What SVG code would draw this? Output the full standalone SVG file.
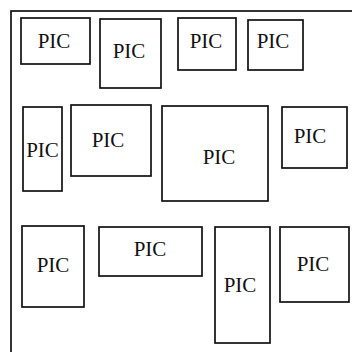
<svg xmlns="http://www.w3.org/2000/svg" width="352" height="352" viewBox="0 0 352 352">
<style>
rect.b{fill:none;stroke:#111;stroke-width:1.7}
text{font-size:21px;fill:#111;text-anchor:middle}
</style>
<rect width="352" height="352" fill="#fff"/>
<g id="frame"><rect class="b" x="11" y="11" width="360" height="360"/></g>
<g font-family="Liberation Serif, Times New Roman, serif">
<g id="n1"><rect class="b" x="21" y="18" width="69" height="46"/><text x="54" y="48">PIC</text></g>
<g id="n2"><rect class="b" x="100" y="19" width="61" height="69"/><text x="129" y="58">PIC</text></g>
<g id="n3"><rect class="b" x="178" y="18" width="58" height="52"/><text x="206" y="48">PIC</text></g>
<g id="n4"><rect class="b" x="248" y="20" width="55" height="50"/><text x="273" y="48">PIC</text></g>
<g id="n5"><rect class="b" x="23" y="107" width="39" height="84"/><text x="42.5" y="157">PIC</text></g>
<g id="n6"><rect class="b" x="71" y="105" width="80" height="71"/><text x="108" y="147">PIC</text></g>
<g id="n7"><rect class="b" x="162" y="106" width="106" height="95"/><text x="219" y="164">PIC</text></g>
<g id="n8"><rect class="b" x="282" y="107" width="65" height="61"/><text x="310" y="143">PIC</text></g>
<g id="n9"><rect class="b" x="22" y="226" width="62" height="81"/><text x="53" y="272">PIC</text></g>
<g id="n10"><rect class="b" x="99" y="227" width="103" height="49"/><text x="150" y="256">PIC</text></g>
<g id="n11"><rect class="b" x="215" y="227" width="55" height="116"/><text x="240" y="292">PIC</text></g>
<g id="n12"><rect class="b" x="280" y="227" width="69" height="75"/><text x="313" y="271">PIC</text></g>
</g>
<g id="connectors"></g>
</svg>
